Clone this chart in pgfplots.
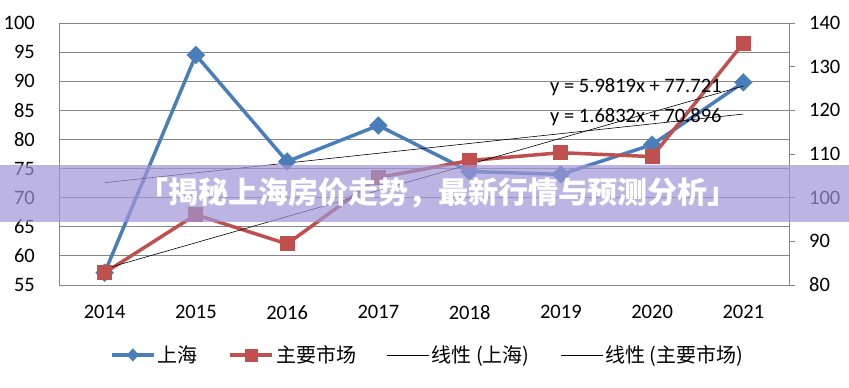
\documentclass[border=0pt]{standalone}
\usepackage{pgfplots}
\pgfplotsset{compat=1.18}
\usepackage{fontspec}
\setmainfont{Carlito}
\newfontfamily\cjk{Noto Sans CJK SC}
\definecolor{sblue}{RGB}{74,126,187}
\definecolor{sred}{RGB}{192,80,77}
\definecolor{gridc}{RGB}{134,134,134}
\definecolor{banner}{RGB}{160,150,215}
\begin{document}
\begin{tikzpicture}[x=1pt,y=1pt]
\path[use as bounding box] (0,0) rectangle (849,388);
\begin{axis}[
  at={(59pt,103pt)}, anchor=south west, scale only axis,
  width=730pt, height=262pt,
  xmin=-0.5, xmax=7.5, ymin=55, ymax=100,
  xtick={0,...,7}, xticklabels={2014,2015,2016,2017,2018,2019,2020,2021},
  ytick={55,60,...,100},
  ymajorgrids, grid style={gridc, line width=0.8pt},
  axis line style={gridc, line width=0.8pt},
  tick style={draw=none},
  /pgf/number format/assume math mode=true,
  ticklabel style={font=\fontsize{20.5}{24}\selectfont},
  yticklabel style={inner sep=0pt, xshift=-24pt},
  xticklabel style={inner sep=0pt, yshift=-20pt},
  legend columns=4,
  legend style={at={(0.505,-0.267)}, anchor=center, draw=none, fill=none,
    font=\cjk\fontsize{20}{23}\selectfont,
    nodes={inner xsep=2pt, inner ysep=1pt},
    /tikz/every even column/.append style={column sep=29pt}},
  legend image code/.code={\draw[mark repeat=2,mark phase=2,#1] plot coordinates {(0pt,0pt) (21pt,0pt) (42pt,0pt)};},
]
\addplot[sblue, line width=3.5pt, mark=diamond*, mark size=8.5pt,
  mark options={solid, line width=1pt, xscale=1.33}, forget plot]
  coordinates {(0,57.1) (1,94.5) (2,76.2) (3,82.4) (4,74.5) (5,74.0) (6,79.1) (7,89.8)};
\addplot[black, line width=0.6pt, forget plot]
  coordinates {(0,72.579) (7,84.362)};
\addlegendimage{sblue, line width=3.5pt, mark=diamond*, mark size=6pt, mark options={solid, line width=0.8pt, xscale=1.2}}
\addlegendentry{上海}
\addlegendimage{sred, line width=3.5pt, mark=square*, mark size=6pt, mark options={solid, line width=0.8pt}}
\addlegendentry{主要市场}
\addlegendimage{black, line width=0.6pt}
\addlegendentry{线性 (上海)}
\addlegendimage{black, line width=0.6pt}
\addlegendentry{线性 (主要市场)}
\end{axis}
\begin{axis}[
  at={(59pt,103pt)}, anchor=south west, scale only axis,
  width=730pt, height=262pt,
  xmin=-0.5, xmax=7.5, ymin=80, ymax=140,
  ytick={80,90,...,140},
  hide x axis,
  axis y line*=right,
  axis line style={gridc, line width=0.8pt},
  ytick style={gridc, line width=0.8pt},
  tick align=outside, major tick length=6pt,
  /pgf/number format/assume math mode=true,
  ticklabel style={font=\fontsize{20.5}{24}\selectfont},
  yticklabel style={inner sep=0pt, xshift=14pt},
]
\addplot[sred, line width=3.5pt, mark=square*, mark size=7pt,
  mark options={solid, line width=1pt}]
  coordinates {(0,82.8) (1,96.1) (2,89.4) (3,104.6) (4,108.5) (5,110.3) (6,109.4) (7,135.4)};
\addplot[black, line width=0.6pt]
  coordinates {(0,83.703) (7,125.576)};
\end{axis}
\node[anchor=west, inner sep=0pt, font=\fontsize{20.5}{24}\selectfont] at (550,301) {y = 5.9819x + 77.721};
\node[anchor=west, inner sep=0pt, font=\fontsize{20.5}{24}\selectfont] at (550,271) {y = 1.6832x + 70.896};
\fill[banner, opacity=0.7] (0,166) rectangle (849,223);
\node[white, inner sep=0pt, font=\cjk\bfseries\fontsize{30}{33}\selectfont] at (438,195) {「揭秘上海房价走势，最新行情与预测分析」};
\end{tikzpicture}
\end{document}
